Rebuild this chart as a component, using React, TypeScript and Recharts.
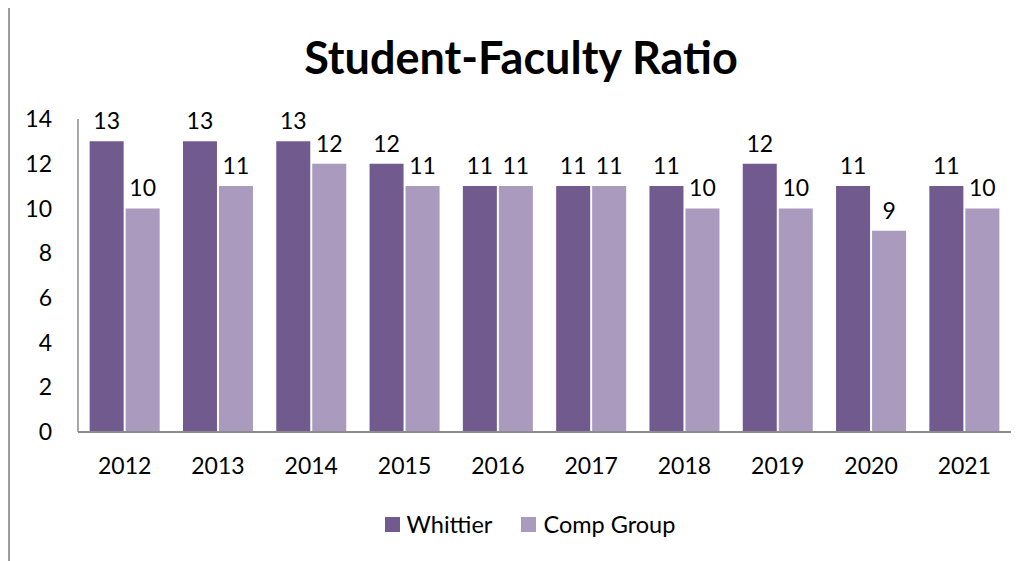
import React from "react";
import { BarChart, Bar, XAxis, YAxis, LabelList, Legend } from "recharts";

const years = ["2012", "2013", "2014", "2015", "2016", "2017", "2018", "2019", "2020", "2021"];
const whittier = [13, 13, 13, 12, 11, 11, 11, 12, 11, 11];
const compGroup = [10, 11, 12, 11, 11, 11, 10, 10, 9, 10];
const yTicks = [0, 2, 4, 6, 8, 10, 12, 14];

const data = years.map((y, i) => ({ year: y, whittier: whittier[i], comp: compGroup[i] }));

const FONT = "Lato, 'Open Sans', sans-serif";
const DARK = "#715A8E";
const LIGHT = "#A99ABE";

const renderLegend = () => (
  <div style={{ display: "flex", justifyContent: "center", alignItems: "center", fontFamily: FONT, fontSize: 23.5, color: "#000", lineHeight: "28px" }}>
    <span style={{ display: "inline-block", width: 15, height: 15, background: DARK, marginRight: 7 }} />
    <span style={{ marginRight: 29 }}>Whittier</span>
    <span style={{ display: "inline-block", width: 15, height: 15, background: LIGHT, marginRight: 7 }} />
    <span>Comp Group</span>
  </div>
);

export default function App() {
  return (
    <div style={{ position: "relative", top: -2, width: 1018, height: 555, overflow: "hidden", background: "#fff" }}>
      <div
        style={{
          position: "absolute",
          left: 0,
          width: 1026,
          top: 21,
          textAlign: "center",
          fontFamily: FONT,
          fontWeight: "bold",
          fontSize: 45,
          lineHeight: "60px",
          color: "#000",
        }}
      >
        Student-Faculty Ratio
      </div>
      <div style={{ position: "absolute", left: 0, top: 0 }}>
        <BarChart
          width={1018}
          height={555}
          data={data}
          margin={{ top: 113, right: 15, bottom: 69, left: 0 }}
          barCategoryGap="12.5%"
          barGap={2}
        >
          <YAxis
            type="number"
            domain={[0, 14]}
            ticks={yTicks}
            width={70}
            tickLine={false}
            tickSize={0}
            tickMargin={26}
            axisLine={{ stroke: "#8c8c8c", strokeWidth: 1.5 }}
            tick={{ fill: "#000", fontSize: 23, fontFamily: FONT }}
            interval={0}
          />
          <XAxis
            dataKey="year"
            height={60}
            tickLine={false}
            tickSize={0}
            tickMargin={26}
            axisLine={{ stroke: "#8c8c8c", strokeWidth: 2 }}
            tick={{ fill: "#000", fontSize: 23, fontFamily: FONT }}
            interval={0}
          />
          <Legend
            verticalAlign="middle"
            layout="horizontal"
            align="center"
            content={renderLegend}
            wrapperStyle={{ top: 504, left: 0, width: 1044 }}
          />
          <Bar dataKey="whittier" name="Whittier" fill={DARK} isAnimationActive={false}>
            <LabelList dataKey="whittier" position="top" offset={12} style={{ fill: "#000", fontSize: 23, fontFamily: FONT }} />
          </Bar>
          <Bar dataKey="comp" name="Comp Group" fill={LIGHT} isAnimationActive={false}>
            <LabelList dataKey="comp" position="top" offset={12} style={{ fill: "#000", fontSize: 23, fontFamily: FONT }} />
          </Bar>
        </BarChart>
      </div>
      <div
        style={{
          position: "absolute",
          left: 0,
          top: 0,
          width: 1200,
          height: 800,
          borderTop: "2px solid #9c9c9c",
          borderLeft: "2px solid #9c9c9c",
          boxSizing: "border-box",
          pointerEvents: "none",
        }}
      />
    </div>
  );
}
